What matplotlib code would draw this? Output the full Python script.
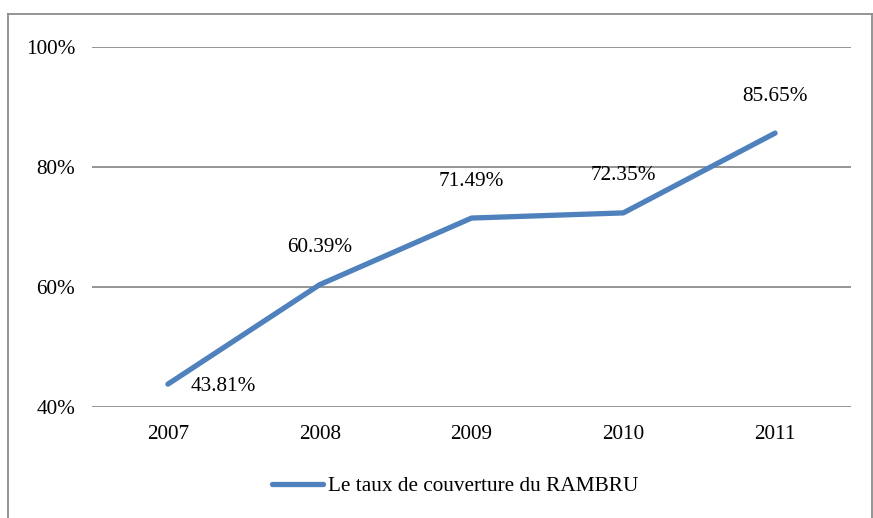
import matplotlib.pyplot as plt
from matplotlib.lines import Line2D

years = ["2007", "2008", "2009", "2010", "2011"]
taux = [43.81, 60.39, 71.49, 72.35, 85.65]
yticks = [40, 60, 80, 100]
serie = "Le taux de couverture du RAMBRU"

plt.rcParams['font.family'] = ['Liberation Serif', 'DejaVu Serif']
plt.rcParams['font.size'] = 15.3

fig = plt.figure(figsize=(8.73, 5.18), dpi=100)
ax = fig.add_axes([92 / 873, 1 - 407 / 518, (851 - 92) / 873, (407 - 47) / 518])

x = list(range(len(years)))
line, = ax.plot(x, taux, color="#4F81BD", lw=3.8, solid_capstyle="round", label=serie)

# data labels: first one to the right, the rest above
for i, v in enumerate(taux):
    if i == 0:
        off = (55, -2)
    else:
        off = (0, 37)
    ax.annotate(f"{v:.2f}%", (i, v), xytext=off, textcoords="offset pixels",
                ha="center", va="center")

ax.set_xlim(-0.5, len(years) - 0.5)
ax.set_ylim(40, 100)
ax.set_xticks(x)
ax.set_xticklabels(years)
ax.set_yticks(yticks)
ax.set_yticklabels([f"{t}%" for t in yticks])
ax.tick_params(length=0, pad=13)
ax.tick_params(axis="y", pad=12)
ax.grid(axis="y", color="#8C8C8C", lw=1.3)
ax.set_axisbelow(True)
for s in ax.spines.values():
    s.set_visible(False)

fig.legend(handles=[Line2D([], [], color="#4F81BD", lw=3.8, solid_capstyle="round")],
           labels=[serie], loc="center", bbox_to_anchor=(455 / 873, 1 - 486 / 518),
           frameon=False, handlelength=2.4, handletextpad=0.25)

# outer chart border
bc = "#8C8C8C"
fig.add_artist(Line2D([8 / 873, 8 / 873], [0, 1 - 14 / 518], color=bc, lw=1.3, transform=fig.transFigure))
fig.add_artist(Line2D([8 / 873, 872 / 873], [1 - 14 / 518, 1 - 14 / 518], color=bc, lw=1.3, transform=fig.transFigure))
fig.add_artist(Line2D([872 / 873, 872 / 873], [0, 1 - 14 / 518], color=bc, lw=1.3, transform=fig.transFigure))

fig.savefig("out.png", dpi=100)
